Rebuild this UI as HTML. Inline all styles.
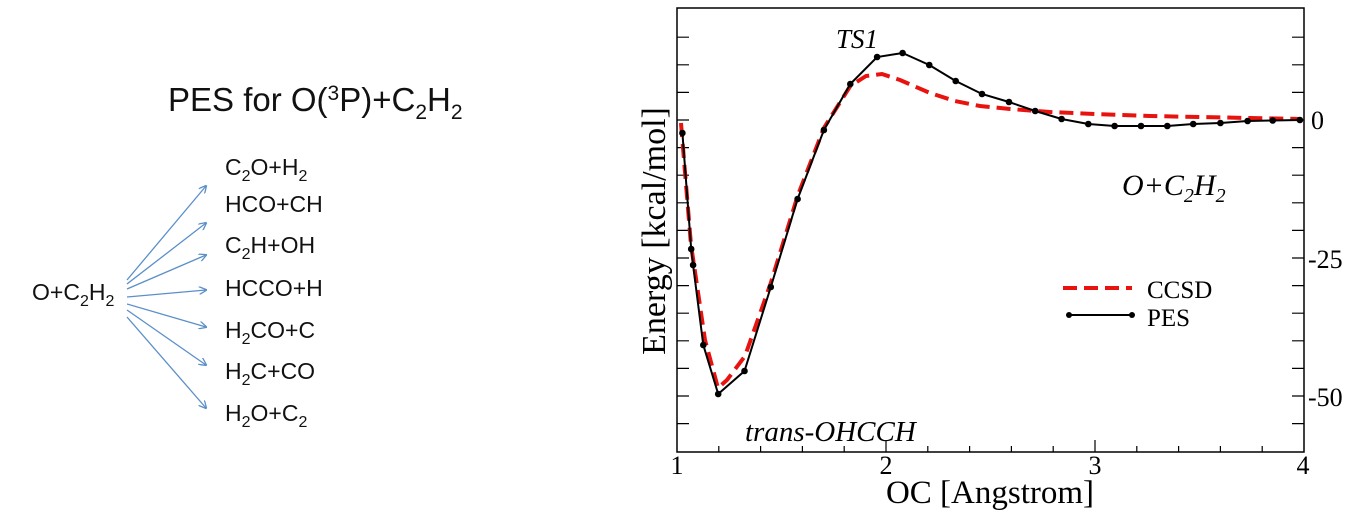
<!DOCTYPE html>
<html><head><meta charset="utf-8"><style>
html,body{margin:0;padding:0;background:#fff;}
svg{display:block;}
</style></head><body>
<svg width="1371" height="520" viewBox="0 0 1371 520" xmlns="http://www.w3.org/2000/svg">
<g font-family="Liberation Sans, sans-serif" fill="#111">
<text x="168" y="111" font-size="33">PES for O(<tspan font-size="21" dy="-11">3</tspan><tspan dy="11">P)+C</tspan><tspan font-size="21" dy="8">2</tspan><tspan dy="-8">H</tspan><tspan font-size="21" dy="8">2</tspan></text>
<text x="32" y="300" font-size="23">O+C<tspan font-size="16" dy="6">2</tspan><tspan dy="-6">H</tspan><tspan font-size="16" dy="6">2</tspan></text>
<g font-size="23">
<text x="225" y="175">C<tspan font-size="16" dy="6">2</tspan><tspan dy="-6">O+H</tspan><tspan font-size="16" dy="6">2</tspan></text>
<text x="225" y="212">HCO+CH</text>
<text x="225" y="253">C<tspan font-size="16" dy="6">2</tspan><tspan dy="-6">H+OH</tspan></text>
<text x="225" y="296">HCCO+H</text>
<text x="225" y="338">H<tspan font-size="16" dy="6">2</tspan><tspan dy="-6">CO+C</tspan></text>
<text x="225" y="379">H<tspan font-size="16" dy="6">2</tspan><tspan dy="-6">C+CO</tspan></text>
<text x="225" y="421">H<tspan font-size="16" dy="6">2</tspan><tspan dy="-6">O+C</tspan><tspan font-size="16" dy="6">2</tspan></text>
</g>
</g>
<defs><marker id="ah" markerWidth="8" markerHeight="8" refX="7" refY="4" orient="auto" markerUnits="userSpaceOnUse"><path d="M0,0 L8,4 L0,8" fill="none" stroke="#5b8fc9" stroke-width="1.3"/></marker></defs>
<g stroke="#5b8fc9" stroke-width="1.3" fill="none" marker-end="url(#ah)">
<line x1="127" y1="280" x2="206" y2="186"/>
<line x1="127" y1="284" x2="206" y2="223"/>
<line x1="127" y1="289" x2="206" y2="255"/>
<line x1="127" y1="297" x2="206" y2="290"/>
<line x1="127" y1="304" x2="206" y2="327"/>
<line x1="127" y1="310" x2="206" y2="365"/>
<line x1="127" y1="317" x2="206" y2="408"/>
</g>

<rect x="677" y="8" width="627" height="444" fill="none" stroke="#000" stroke-width="1.5"/>
<g stroke="#000" stroke-width="1.2">
<path d="M677,37.2h12M677,64.8h12M677,92.4h12M677,120h12M677,147.6h12M677,175.2h12M677,202.8h12M677,230.4h12M677,258h12M677,285.6h12M677,313.2h12M677,340.8h12M677,368.4h12M677,396h12M677,423.6h12"/>
<path d="M1304,37.2h-12M1304,64.8h-12M1304,92.4h-12M1304,120h-12M1304,147.6h-12M1304,175.2h-12M1304,202.8h-12M1304,230.4h-12M1304,258h-12M1304,285.6h-12M1304,313.2h-12M1304,340.8h-12M1304,368.4h-12M1304,396h-12M1304,423.6h-12"/>
<path d="M718.8,452v-6M760.6,452v-6M802.4,452v-6M844.2,452v-6M886,452v-12M927.8,452v-6M969.6,452v-6M1011.4,452v-6M1053.2,452v-6M1095,452v-12M1136.8,452v-6M1178.6,452v-6M1220.4,452v-6M1262.2,452v-6"/>
</g>
<g font-family="Liberation Serif, serif" font-size="26" fill="#000">
<text x="1311" y="129">0</text>
<text x="1308" y="268">-25</text>
<text x="1308" y="406">-50</text>
<text x="677" y="474" text-anchor="middle">1</text>
<text x="886" y="474" text-anchor="middle">2</text>
<text x="1095" y="474" text-anchor="middle">3</text>
<text x="1303" y="474" text-anchor="middle">4</text>
<text x="990" y="503" font-size="33" text-anchor="middle">OC [Angstrom]</text>
<text transform="translate(665,231) rotate(-90)" font-size="34" text-anchor="middle">Energy [kcal/mol]</text>
<text x="836" y="48" font-style="italic" font-size="27">TS1</text>
<text x="745" y="441" font-style="italic" font-size="29">trans-OHCCH</text>
<text x="1122" y="195" font-style="italic" font-size="30">O+C<tspan font-size="20" dy="7">2</tspan><tspan dy="-7">H</tspan><tspan font-size="20" dy="7">2</tspan></text>
<text x="1147" y="298" font-size="25">CCSD</text>
<text x="1147" y="326" font-size="25">PES</text>
</g>
<line x1="1063" y1="288" x2="1132" y2="288" stroke="#e8130f" stroke-width="4" stroke-dasharray="14,7"/>
<line x1="1069" y1="315" x2="1132" y2="315" stroke="#000" stroke-width="2"/>
<circle cx="1069" cy="315" r="3" fill="#000"/><circle cx="1132" cy="315" r="3" fill="#000"/>
<polyline fill="none" stroke="#e8130f" stroke-width="4" stroke-dasharray="14,7" points="681,123 684,160 691,245 694,265 705,340 718,388 727,380 745,356 770.8,283 797.6,196 823.9,128 850.3,86 866,76 882,74 900,80 930,93 955,101 980,106 1010,109 1050,112 1095,114 1150,116 1200,117 1250,118 1300,119"/>
<g fill="#000">
<polyline fill="none" stroke="#000" stroke-width="2" points="682.4,133 691.2,249 693.1,265 703.3,345 718.2,394 744.5,371 770.8,287 797.6,199 823.9,130 850.3,84 877.1,57 902.6,53 929.3,65 955.7,81 982,94 1009,102 1035.2,111 1061.6,119 1088.3,124 1114.6,126 1141,126 1167.3,126 1193.2,124 1220.4,123 1247.6,121 1272.7,120.5 1299.9,120"/>
<circle cx="682.4" cy="133" r="3.3"/><circle cx="691.2" cy="249" r="3.3"/><circle cx="693.1" cy="265" r="3.3"/><circle cx="703.3" cy="345" r="3.3"/><circle cx="718.2" cy="394" r="3.3"/><circle cx="744.5" cy="371" r="3.3"/><circle cx="770.8" cy="287" r="3.3"/><circle cx="797.6" cy="199" r="3.3"/><circle cx="823.9" cy="130" r="3.3"/><circle cx="850.3" cy="84" r="3.3"/><circle cx="877.1" cy="57" r="3.3"/><circle cx="902.6" cy="53" r="3.3"/><circle cx="929.3" cy="65" r="3.3"/><circle cx="955.7" cy="81" r="3.3"/><circle cx="982" cy="94" r="3.3"/><circle cx="1009" cy="102" r="3.3"/><circle cx="1035.2" cy="111" r="3.3"/><circle cx="1061.6" cy="119" r="3.3"/><circle cx="1088.3" cy="124" r="3.3"/><circle cx="1114.6" cy="126" r="3.3"/><circle cx="1141" cy="126" r="3.3"/><circle cx="1167.3" cy="126" r="3.3"/><circle cx="1193.2" cy="124" r="3.3"/><circle cx="1220.4" cy="123" r="3.3"/><circle cx="1247.6" cy="121" r="3.3"/><circle cx="1272.7" cy="120.5" r="3.3"/><circle cx="1299.9" cy="120" r="3.3"/>
</g>
</svg>
</body></html>
